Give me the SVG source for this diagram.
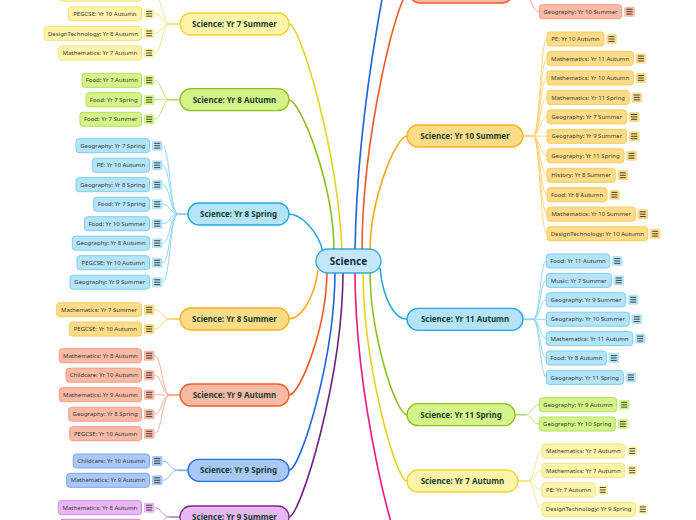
<svg xmlns="http://www.w3.org/2000/svg" xmlns:xlink="http://www.w3.org/1999/xlink" width="696" height="520" viewBox="0 0 696 520">
<style>
.mn rect{stroke-width:1.3}
.mn text{font-family:"Noto Sans","Open Sans","DejaVu Sans",sans-serif;font-size:8px;font-weight:bold;fill:#18402f;text-anchor:middle}
.ct rect{fill:#c4e7f9;stroke:#3ba5dc;stroke-width:1.3}
.ct text{font-family:"Noto Sans","Open Sans","DejaVu Sans",sans-serif;font-size:10px;font-weight:bold;fill:#142a48;text-anchor:middle}
.lf .bx{stroke-width:1}
.lf text{font-family:"Noto Sans","Open Sans","DejaVu Sans",sans-serif;font-size:6px;fill:#383838;text-anchor:middle}
.y .bx,.y .ic{fill:#fff4a9}.y .bx{stroke:#f3e27a}.y.mn rect{fill:#fff4a9;stroke:#ecd62e}
.g .bx,.g .ic{fill:#d4f48a}.g .bx{stroke:#b3dd5e}.g.mn rect{fill:#d4f48a;stroke:#8dbf1e}
.b .bx,.b .ic{fill:#b3e4f9}.b .bx{stroke:#7fcdee}.b.mn rect{fill:#b3e4f9;stroke:#27a6e3}
.o .bx,.o .ic{fill:#fedc87}.o .bx{stroke:#f8cb5e}.o.mn rect{fill:#fedc87;stroke:#f6b223}
.r .bx,.r .ic{fill:#f8b9a5}.r .bx{stroke:#f29b80}.r.mn rect{fill:#f8b9a5;stroke:#ee5b2c}
.m .bx,.m .ic{fill:#a9c8f8}.m .bx{stroke:#78a6ee}.m.mn rect{fill:#a9c8f8;stroke:#2b6fdd}
.p .bx,.p .ic{fill:#e9b7f5}.p .bx{stroke:#c68ad4}.p.mn rect{fill:#e9b7f5;stroke:#7c2a87}
.cn path{fill:none}
.main{stroke-width:1.6}
.leaf{stroke-width:0.9}
.stub{stroke-width:1.8}
</style>
<defs>
<path id="hb" d="M-3,-2.4h6M-3,0h6M-3,2.4h6" stroke="#2e2e2e" stroke-width="0.9" fill="none"/>
</defs>

<g id="connectors" class="cn">
<!-- main branches -->
<path class="main" stroke="#e8d31c" d="M342,252C338,150 300,24 289,24"/>
<path class="main" stroke="#8dbf1e" d="M334,252C334,183 300,100 289,100"/>
<path class="main" stroke="#27a6e3" d="M323,252C318,230 300,214 289,214"/>
<path class="main" stroke="#f8a91a" d="M318,270C314,300 300,319 289,319"/>
<path class="main" stroke="#f05a28" d="M327,270C327,327 300,395 289,395"/>
<path class="main" stroke="#1e64d8" d="M335,270C335,360 300,470.3 289,470.3"/>
<path class="main" stroke="#6e1f80" d="M343,270C343,380 300,517 289,517"/>
<path class="main" stroke="#f8a91a" d="M370,252C370,199 396,136 407,136"/>
<path class="main" stroke="#f05a28" d="M362,252C362,136 398,-8 409,-8"/>
<path class="main" stroke="#1e64d8" d="M355,252C357,100 396,-90 407,-90"/>
<path class="main" stroke="#27a6e3" d="M380,268C383,300 395,319.3 407,319.3"/>
<path class="main" stroke="#8dbf1e" d="M370,270C370,335 396,414.7 407,414.7"/>
<path class="main" stroke="#e8d31c" d="M363,270C363,365 396,481 407,481"/>
<path class="main" stroke="#f2157a" d="M355,270C355,399 396,560 407,560"/>
<!-- leaf connectors: Yr 7 Summer -->
<g stroke="#f1e27f">
<path class="stub" d="M180,24H170"/>
<path class="leaf" d="M170,24C162,24 162,-5.8 154.5,-5.8M170,24C162,24 162,13.8 154.5,13.8M170,24C162,24 162,33.4 154.5,33.4M170,24C162,24 162,53 154.5,53"/>
</g>
<g stroke="#b5dc6a">
<path class="stub" d="M180,99.7H170"/>
<path class="leaf" d="M170,99.7C162,99.7 162,80.3 154.5,80.3M170,99.7C162,99.7 162,99.8 154.5,99.8M170,99.7C162,99.7 162,119.3 154.5,119.3"/>
</g>
<g stroke="#8ad1f0">
<path class="stub" d="M188,214H178"/>
<path class="leaf" d="M178,214C170,214 170,145.7 162.5,145.7M178,214C170,214 170,165.2 162.5,165.2M178,214C170,214 170,184.7 162.5,184.7M178,214C170,214 170,204.2 162.5,204.2M178,214C170,214 170,223.7 162.5,223.7M178,214C170,214 170,243.2 162.5,243.2M178,214C170,214 170,262.7 162.5,262.7M178,214C170,214 170,282.2 162.5,282.2"/>
</g>
<g stroke="#fbd06f">
<path class="stub" d="M180,319H170"/>
<path class="leaf" d="M170,319C162,319 162,309.7 154.5,309.7M170,319C162,319 162,329 154.5,329"/>
</g>
<g stroke="#f6a68c">
<path class="stub" d="M180,395H170"/>
<path class="leaf" d="M170,395C162,395 162,355.7 154.5,355.7M170,395C162,395 162,375.2 154.5,375.2M170,395C162,395 162,394.7 154.5,394.7M170,395C162,395 162,414.2 154.5,414.2M170,395C162,395 162,433.7 154.5,433.7"/>
</g>
<g stroke="#86aff0">
<path class="stub" d="M188,470.3H178"/>
<path class="leaf" d="M178,470.3C170,470.3 170,461 162.5,461M178,470.3C170,470.3 170,480.3 162.5,480.3"/>
</g>
<g stroke="#bb86c8">
<path class="stub" d="M180,517H170"/>
<path class="leaf" d="M170,517C162,517 162,507.7 154.5,507.7M170,517C162,517 162,526.3 154.5,526.3"/>
</g>
<!-- right side -->
<g stroke="#f6a68c">
<path class="stub" d="M513,-8H523"/>
<path class="leaf" d="M523,-8C531,-8 531,11.7 539.3,11.7"/>
</g>
<g stroke="#fbd06f">
<path class="stub" d="M523,136H533"/>
<path class="leaf" d="M533,136C540,136 540,39 547,39M533,136C540,136 540,58.5 547,58.5M533,136C540,136 540,77.9 547,77.9M533,136C540,136 540,97.4 547,97.4M533,136C540,136 540,116.9 547,116.9M533,136C540,136 540,136.3 547,136.3M533,136C540,136 540,155.8 547,155.8M533,136C540,136 540,175.3 547,175.3M533,136C540,136 540,194.8 547,194.8M533,136C540,136 540,214.2 547,214.2M533,136C540,136 540,233.7 547,233.7"/>
</g>
<g stroke="#8ad1f0">
<path class="stub" d="M523,319.3H533"/>
<path class="leaf" d="M533,319.3C540,319.3 540,261 546.3,261M533,319.3C540,319.3 540,280.4 546.3,280.4M533,319.3C540,319.3 540,299.8 546.3,299.8M533,319.3C540,319.3 540,319.2 546.3,319.2M533,319.3C540,319.3 540,338.6 546.3,338.6M533,319.3C540,319.3 540,358 546.3,358M533,319.3C540,319.3 540,377.4 546.3,377.4"/>
</g>
<g stroke="#b5dc6a">
<path class="stub" d="M515,414.7H525"/>
<path class="leaf" d="M525,414.7C532,414.7 532,404.7 539.3,404.7M525,414.7C532,414.7 532,424 539.3,424"/>
</g>
<g stroke="#f1e27f">
<path class="stub" d="M518,481H528"/>
<path class="leaf" d="M528,481C535,481 535,451 542,451M528,481C535,481 535,470.4 542,470.4M528,481C535,481 535,489.9 542,489.9M528,481C535,481 535,509.3 542,509.3"/>
</g>
</g>

<!-- central topic -->
<g id="science" class="ct"><rect x="316" y="249" width="65" height="24" rx="12"/><text x="348.5" y="264.5">Science</text></g>

<!-- main topics -->
<g id="yr7summer" class="mn y"><rect x="180" y="13" width="109" height="22" rx="11"/><text x="234.5" y="26.8">Science: Yr 7 Summer</text></g>
<g id="yr8autumn" class="mn g"><rect x="180" y="88.7" width="109" height="22" rx="11"/><text x="234.5" y="102.5">Science: Yr 8 Autumn</text></g>
<g id="yr8spring" class="mn b"><rect x="188" y="203" width="101" height="22" rx="11"/><text x="238.5" y="216.8">Science: Yr 8 Spring</text></g>
<g id="yr8summer" class="mn o"><rect x="180" y="308" width="109" height="22" rx="11"/><text x="234.5" y="321.8">Science: Yr 8 Summer</text></g>
<g id="yr9autumn" class="mn r"><rect x="180" y="384" width="109" height="22" rx="11"/><text x="234.5" y="397.8">Science: Yr 9 Autumn</text></g>
<g id="yr9spring" class="mn m"><rect x="188" y="459.3" width="101" height="22" rx="11"/><text x="238.5" y="473.1">Science: Yr 9 Spring</text></g>
<g id="yr9summer" class="mn p"><rect x="180" y="506" width="109" height="22" rx="11"/><text x="234.5" y="519.8">Science: Yr 9 Summer</text></g>
<g id="topred" class="mn r"><rect x="409" y="-19" width="104" height="22" rx="11"/></g>
<g id="yr10summer" class="mn o"><rect x="407" y="125" width="116" height="22" rx="11"/><text x="465" y="138.8">Science: Yr 10 Summer</text></g>
<g id="yr11autumn" class="mn b"><rect x="407" y="308.3" width="116" height="22" rx="11"/><text x="465" y="322.1">Science: Yr 11 Autumn</text></g>
<g id="yr11spring" class="mn g"><rect x="407" y="403.7" width="108" height="22" rx="11"/><text x="461" y="417.5">Science: Yr 11 Spring</text></g>
<g id="yr7autumn" class="mn y"><rect x="407" y="470" width="111" height="22" rx="11"/><text x="462.5" y="483.8">Science: Yr 7 Autumn</text></g>

<!-- leaves: Yr 7 Summer -->
<g id="l7s0" class="lf y"><rect class="bx" x="59" y="-12.8" width="82.5" height="14" rx="3"/><rect class="ic" x="144" y="-10.8" width="10.5" height="10" rx="1.5"/><use href="#hb" x="149.2" y="-5.8"/></g>
<g id="l7s1" class="lf y"><rect class="bx" x="68.3" y="6.8" width="73.2" height="14" rx="3"/><text x="104.9" y="15.9">PEGCSE: Yr 10 Autumn</text><rect class="ic" x="144" y="8.8" width="10.5" height="10" rx="1.5"/><use href="#hb" x="149.2" y="13.8"/></g>
<g id="l7s2" class="lf y"><rect class="bx" x="44.3" y="26.4" width="97.2" height="14" rx="3"/><text x="92.9" y="35.5">DesignTechnology: Yr 8 Autumn</text><rect class="ic" x="144" y="28.4" width="10.5" height="10" rx="1.5"/><use href="#hb" x="149.2" y="33.4"/></g>
<g id="l7s3" class="lf y"><rect class="bx" x="58.7" y="46" width="82.8" height="14" rx="3"/><text x="100.1" y="55.1">Mathematics: Yr 7 Autumn</text><rect class="ic" x="144" y="48" width="10.5" height="10" rx="1.5"/><use href="#hb" x="149.2" y="53"/></g>

<!-- leaves: Yr 8 Autumn -->
<g id="l8a1" class="lf g"><rect class="bx" x="82" y="73.3" width="59.5" height="14" rx="3"/><text x="111.75" y="82.4">Food: Yr 7 Autumn</text><rect class="ic" x="144" y="75.3" width="10.5" height="10" rx="1.5"/><use href="#hb" x="149.2" y="80.3"/></g>
<g id="l8a2" class="lf g"><rect class="bx" x="86" y="92.8" width="55.5" height="14" rx="3"/><text x="113.75" y="101.9">Food: Yr 7 Spring</text><rect class="ic" x="144" y="94.8" width="10.5" height="10" rx="1.5"/><use href="#hb" x="149.2" y="99.8"/></g>
<g id="l8a3" class="lf g"><rect class="bx" x="80" y="112.3" width="61.5" height="14" rx="3"/><text x="110.75" y="121.4">Food: Yr 7 Summer</text><rect class="ic" x="144" y="114.3" width="10.5" height="10" rx="1.5"/><use href="#hb" x="149.2" y="119.3"/></g>

<!-- leaves: Yr 8 Spring -->
<g id="l8p1" class="lf b"><rect class="bx" x="76" y="138.7" width="73.5" height="14" rx="3"/><text x="112.75" y="147.8">Geography: Yr 7 Spring</text><rect class="ic" x="152" y="140.7" width="10.5" height="10" rx="1.5"/><use href="#hb" x="157.2" y="145.7"/></g>
<g id="l8p2" class="lf b"><rect class="bx" x="92.3" y="158.2" width="57.2" height="14" rx="3"/><text x="120.9" y="167.3">PE: Yr 10 Autumn</text><rect class="ic" x="152" y="160.2" width="10.5" height="10" rx="1.5"/><use href="#hb" x="157.2" y="165.2"/></g>
<g id="l8p3" class="lf b"><rect class="bx" x="76" y="177.7" width="73.5" height="14" rx="3"/><text x="112.75" y="186.8">Geography: Yr 8 Spring</text><rect class="ic" x="152" y="179.7" width="10.5" height="10" rx="1.5"/><use href="#hb" x="157.2" y="184.7"/></g>
<g id="l8p4" class="lf b"><rect class="bx" x="93.7" y="197.2" width="55.8" height="14" rx="3"/><text x="121.6" y="206.3">Food: Yr 7 Spring</text><rect class="ic" x="152" y="199.2" width="10.5" height="10" rx="1.5"/><use href="#hb" x="157.2" y="204.2"/></g>
<g id="l8p5" class="lf b"><rect class="bx" x="84.3" y="216.7" width="65.2" height="14" rx="3"/><text x="116.9" y="225.8">Food: Yr 10 Summer</text><rect class="ic" x="152" y="218.7" width="10.5" height="10" rx="1.5"/><use href="#hb" x="157.2" y="223.7"/></g>
<g id="l8p6" class="lf b"><rect class="bx" x="72.3" y="236.2" width="77.2" height="14" rx="3"/><text x="110.9" y="245.3">Geography: Yr 8 Autumn</text><rect class="ic" x="152" y="238.2" width="10.5" height="10" rx="1.5"/><use href="#hb" x="157.2" y="243.2"/></g>
<g id="l8p7" class="lf b"><rect class="bx" x="77" y="255.7" width="72.5" height="14" rx="3"/><text x="113.25" y="264.8">PEGCSE: Yr 10 Autumn</text><rect class="ic" x="152" y="257.7" width="10.5" height="10" rx="1.5"/><use href="#hb" x="157.2" y="262.7"/></g>
<g id="l8p8" class="lf b"><rect class="bx" x="70" y="275.2" width="79.5" height="14" rx="3"/><text x="109.75" y="284.3">Geography: Yr 9 Summer</text><rect class="ic" x="152" y="277.2" width="10.5" height="10" rx="1.5"/><use href="#hb" x="157.2" y="282.2"/></g>

<!-- leaves: Yr 8 Summer -->
<g id="l8s1" class="lf o"><rect class="bx" x="56.7" y="302.7" width="84.8" height="14" rx="3"/><text x="99.1" y="311.8">Mathematics: Yr 7 Summer</text><rect class="ic" x="144" y="304.7" width="10.5" height="10" rx="1.5"/><use href="#hb" x="149.2" y="309.7"/></g>
<g id="l8s2" class="lf o"><rect class="bx" x="69.3" y="322" width="72.2" height="14" rx="3"/><text x="105.4" y="331.1">PEGCSE: Yr 10 Autumn</text><rect class="ic" x="144" y="324" width="10.5" height="10" rx="1.5"/><use href="#hb" x="149.2" y="329"/></g>

<!-- leaves: Yr 9 Autumn -->
<g id="l9a1" class="lf r"><rect class="bx" x="59.3" y="348.7" width="82.2" height="14" rx="3"/><text x="100.4" y="357.8">Mathematics: Yr 8 Autumn</text><rect class="ic" x="144" y="350.7" width="10.5" height="10" rx="1.5"/><use href="#hb" x="149.2" y="355.7"/></g>
<g id="l9a2" class="lf r"><rect class="bx" x="66" y="368.2" width="75.5" height="14" rx="3"/><text x="103.75" y="377.3">Childcare: Yr 10 Autumn</text><rect class="ic" x="144" y="370.2" width="10.5" height="10" rx="1.5"/><use href="#hb" x="149.2" y="375.2"/></g>
<g id="l9a3" class="lf r"><rect class="bx" x="59.3" y="387.7" width="82.2" height="14" rx="3"/><text x="100.4" y="396.8">Mathematics: Yr 9 Autumn</text><rect class="ic" x="144" y="389.7" width="10.5" height="10" rx="1.5"/><use href="#hb" x="149.2" y="394.7"/></g>
<g id="l9a4" class="lf r"><rect class="bx" x="68.7" y="407.2" width="72.8" height="14" rx="3"/><text x="105.1" y="416.3">Geography: Yr 8 Spring</text><rect class="ic" x="144" y="409.2" width="10.5" height="10" rx="1.5"/><use href="#hb" x="149.2" y="414.2"/></g>
<g id="l9a5" class="lf r"><rect class="bx" x="69.7" y="426.7" width="71.8" height="14" rx="3"/><text x="105.6" y="435.8">PEGCSE: Yr 10 Autumn</text><rect class="ic" x="144" y="428.7" width="10.5" height="10" rx="1.5"/><use href="#hb" x="149.2" y="433.7"/></g>

<!-- leaves: Yr 9 Spring -->
<g id="l9p1" class="lf m"><rect class="bx" x="73.3" y="454" width="76.2" height="14" rx="3"/><text x="111.4" y="463.1">Childcare: Yr 10 Autumn</text><rect class="ic" x="152" y="456" width="10.5" height="10" rx="1.5"/><use href="#hb" x="157.2" y="461"/></g>
<g id="l9p2" class="lf m"><rect class="bx" x="66.7" y="473.3" width="82.8" height="14" rx="3"/><text x="108.1" y="482.4">Mathematics: Yr 9 Autumn</text><rect class="ic" x="152" y="475.3" width="10.5" height="10" rx="1.5"/><use href="#hb" x="157.2" y="480.3"/></g>

<!-- leaves: Yr 9 Summer -->
<g id="l9s1" class="lf p"><rect class="bx" x="58.3" y="500.7" width="83.2" height="14" rx="3"/><text x="99.9" y="509.8">Mathematics: Yr 8 Autumn</text><rect class="ic" x="144" y="502.7" width="10.5" height="10" rx="1.5"/><use href="#hb" x="149.2" y="507.7"/></g>
<g id="l9s2" class="lf p"><rect class="bx" x="60" y="519.3" width="81.5" height="14" rx="3"/></g>

<!-- leaves: top red -->
<g id="lr1" class="lf r"><rect class="bx" x="539.3" y="4.7" width="82.4" height="14" rx="3"/><text x="580.5" y="13.8">Geography: Yr 10 Summer</text><rect class="ic" x="624.3" y="6.7" width="10.5" height="10" rx="1.5"/><use href="#hb" x="629.5" y="11.7"/></g>

<!-- leaves: Yr 10 Summer -->
<g id="l10s1" class="lf o"><rect class="bx" x="547" y="32" width="57" height="14" rx="3"/><text x="575.5" y="41.1">PE: Yr 10 Autumn</text><rect class="ic" x="606.3" y="34" width="10.5" height="10" rx="1.5"/><use href="#hb" x="611.5" y="39"/></g>
<g id="l10s2" class="lf o"><rect class="bx" x="547" y="51.5" width="86.3" height="14" rx="3"/><text x="590.15" y="60.6">Mathematics: Yr 11 Autumn</text><rect class="ic" x="635.6" y="53.5" width="10.5" height="10" rx="1.5"/><use href="#hb" x="640.8" y="58.5"/></g>
<g id="l10s3" class="lf o"><rect class="bx" x="547" y="70.9" width="86.3" height="14" rx="3"/><text x="590.15" y="80">Mathematics: Yr 10 Autumn</text><rect class="ic" x="635.6" y="72.9" width="10.5" height="10" rx="1.5"/><use href="#hb" x="640.8" y="77.9"/></g>
<g id="l10s4" class="lf o"><rect class="bx" x="547" y="90.4" width="82.3" height="14" rx="3"/><text x="588.15" y="99.5">Mathematics: Yr 11 Spring</text><rect class="ic" x="631.6" y="92.4" width="10.5" height="10" rx="1.5"/><use href="#hb" x="636.8" y="97.4"/></g>
<g id="l10s5" class="lf o"><rect class="bx" x="547" y="109.9" width="79.7" height="14" rx="3"/><text x="586.85" y="119">Geography: Yr 7 Summer</text><rect class="ic" x="629" y="111.9" width="10.5" height="10" rx="1.5"/><use href="#hb" x="634.2" y="116.9"/></g>
<g id="l10s6" class="lf o"><rect class="bx" x="547" y="129.3" width="79.7" height="14" rx="3"/><text x="586.85" y="138.4">Geography: Yr 9 Summer</text><rect class="ic" x="629" y="131.3" width="10.5" height="10" rx="1.5"/><use href="#hb" x="634.2" y="136.3"/></g>
<g id="l10s7" class="lf o"><rect class="bx" x="547" y="148.8" width="77" height="14" rx="3"/><text x="585.5" y="157.9">Geography: Yr 11 Spring</text><rect class="ic" x="626.3" y="150.8" width="10.5" height="10" rx="1.5"/><use href="#hb" x="631.5" y="155.8"/></g>
<g id="l10s8" class="lf o"><rect class="bx" x="547" y="168.3" width="68.3" height="14" rx="3"/><text x="581.15" y="177.4">History: Yr 8 Summer</text><rect class="ic" x="617.6" y="170.3" width="10.5" height="10" rx="1.5"/><use href="#hb" x="622.8" y="175.3"/></g>
<g id="l10s9" class="lf o"><rect class="bx" x="547" y="187.8" width="60" height="14" rx="3"/><text x="577" y="196.9">Food: Yr 8 Autumn</text><rect class="ic" x="609.3" y="189.8" width="10.5" height="10" rx="1.5"/><use href="#hb" x="614.5" y="194.8"/></g>
<g id="l10s10" class="lf o"><rect class="bx" x="547" y="207.2" width="88.3" height="14" rx="3"/><text x="591.15" y="216.3">Mathematics: Yr 10 Summer</text><rect class="ic" x="637.6" y="209.2" width="10.5" height="10" rx="1.5"/><use href="#hb" x="642.8" y="214.2"/></g>
<g id="l10s11" class="lf o"><rect class="bx" x="547" y="226.7" width="100.7" height="14" rx="3"/><text x="597.35" y="235.8">DesignTechnology: Yr 10 Autumn</text><rect class="ic" x="650" y="228.7" width="10.5" height="10" rx="1.5"/><use href="#hb" x="655.2" y="233.7"/></g>

<!-- leaves: Yr 11 Autumn -->
<g id="l11a1" class="lf b"><rect class="bx" x="546.3" y="254" width="63.4" height="14" rx="3"/><text x="578" y="263.1">Food: Yr 11 Autumn</text><rect class="ic" x="612" y="256" width="10.5" height="10" rx="1.5"/><use href="#hb" x="617.2" y="261"/></g>
<g id="l11a2" class="lf b"><rect class="bx" x="546.3" y="273.4" width="65" height="14" rx="3"/><text x="578.8" y="282.5">Music: Yr 7 Summer</text><rect class="ic" x="613.6" y="275.4" width="10.5" height="10" rx="1.5"/><use href="#hb" x="618.8" y="280.4"/></g>
<g id="l11a3" class="lf b"><rect class="bx" x="546.3" y="292.8" width="79.4" height="14" rx="3"/><text x="586" y="301.9">Geography: Yr 9 Summer</text><rect class="ic" x="628" y="294.8" width="10.5" height="10" rx="1.5"/><use href="#hb" x="633.2" y="299.8"/></g>
<g id="l11a4" class="lf b"><rect class="bx" x="546.3" y="312.2" width="83" height="14" rx="3"/><text x="587.8" y="321.3">Geography: Yr 10 Summer</text><rect class="ic" x="631.6" y="314.2" width="10.5" height="10" rx="1.5"/><use href="#hb" x="636.8" y="319.2"/></g>
<g id="l11a5" class="lf b"><rect class="bx" x="546.3" y="331.6" width="86.4" height="14" rx="3"/><text x="589.5" y="340.7">Mathematics: Yr 11 Autumn</text><rect class="ic" x="635" y="333.6" width="10.5" height="10" rx="1.5"/><use href="#hb" x="640.2" y="338.6"/></g>
<g id="l11a6" class="lf b"><rect class="bx" x="546.3" y="351" width="60" height="14" rx="3"/><text x="576.3" y="360.1">Food: Yr 8 Autumn</text><rect class="ic" x="608.6" y="353" width="10.5" height="10" rx="1.5"/><use href="#hb" x="613.8" y="358"/></g>
<g id="l11a7" class="lf b"><rect class="bx" x="546.3" y="370.4" width="77" height="14" rx="3"/><text x="584.8" y="379.5">Geography: Yr 11 Spring</text><rect class="ic" x="625.6" y="372.4" width="10.5" height="10" rx="1.5"/><use href="#hb" x="630.8" y="377.4"/></g>

<!-- leaves: Yr 11 Spring -->
<g id="l11p1" class="lf g"><rect class="bx" x="539.3" y="397.7" width="77.4" height="14" rx="3"/><text x="578" y="406.8">Geography: Yr 9 Autumn</text><rect class="ic" x="619" y="399.7" width="10.5" height="10" rx="1.5"/><use href="#hb" x="624.2" y="404.7"/></g>
<g id="l11p2" class="lf g"><rect class="bx" x="539.3" y="417" width="76" height="14" rx="3"/><text x="577.3" y="426.1">Geography: Yr 10 Spring</text><rect class="ic" x="617.6" y="419" width="10.5" height="10" rx="1.5"/><use href="#hb" x="622.8" y="424"/></g>

<!-- leaves: Yr 7 Autumn -->
<g id="l7a1" class="lf y"><rect class="bx" x="542" y="444" width="82.7" height="14" rx="3"/><text x="583.35" y="453.1">Mathematics: Yr 7 Autumn</text><rect class="ic" x="627" y="446" width="10.5" height="10" rx="1.5"/><use href="#hb" x="632.2" y="451"/></g>
<g id="l7a2" class="lf y"><rect class="bx" x="542" y="463.4" width="82.7" height="14" rx="3"/><text x="583.35" y="472.5">Mathematics: Yr 7 Autumn</text><rect class="ic" x="627" y="465.4" width="10.5" height="10" rx="1.5"/><use href="#hb" x="632.2" y="470.4"/></g>
<g id="l7a3" class="lf y"><rect class="bx" x="542" y="482.9" width="53.3" height="14" rx="3"/><text x="568.65" y="492">PE: Yr 7 Autumn</text><rect class="ic" x="597.6" y="484.9" width="10.5" height="10" rx="1.5"/><use href="#hb" x="602.8" y="489.9"/></g>
<g id="l7a4" class="lf y"><rect class="bx" x="542" y="502.3" width="93.3" height="14" rx="3"/><text x="588.65" y="511.4">DesignTechnology: Yr 9 Spring</text><rect class="ic" x="637.6" y="504.3" width="10.5" height="10" rx="1.5"/><use href="#hb" x="642.8" y="509.3"/></g>
</svg>
